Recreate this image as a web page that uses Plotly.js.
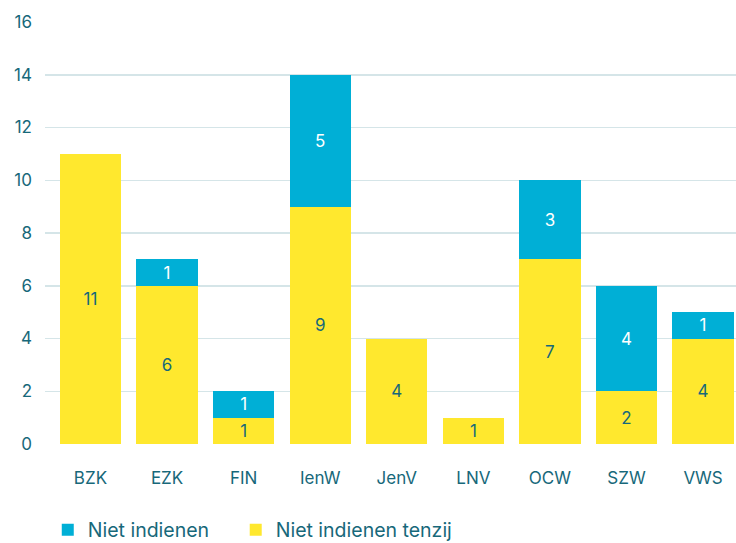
<!DOCTYPE html>
<html><head><meta charset="utf-8">
<script src="https://cdn.plot.ly/plotly-3.0.1.min.js"></script>
<style>html,body{margin:0;padding:0;background:#fff}#chart{width:736px;height:543px}</style>
</head><body><div id="chart"></div>
<script>
const categories = ["BZK","EZK","FIN","IenW","JenV","LNV","OCW","SZW","VWS"];
const nietIndienenTenzij = [11,6,1,9,4,1,7,2,4];
const nietIndienen = [null,1,1,5,null,null,3,4,1];
const yTicks = [0,2,4,6,8,10,12,14,16];

const teal = "#17687a";
const font = "Inter, 'Noto Sans', sans-serif";

const traces = [
  {type:"bar", name:"Niet indienen tenzij", x:categories, y:nietIndienenTenzij, legend:"legend2",
   marker:{color:"#ffe82e"}, text:nietIndienenTenzij.map(String), textposition:"inside", textangle:0,
   insidetextanchor:"middle", textfont:{color:teal,size:17,family:font}, hoverinfo:"skip"},
  {type:"bar", name:"Niet indienen", x:categories, y:nietIndienen, legend:"legend",
   marker:{color:"#00afd6"}, text:nietIndienen.map(v=>v==null?"":String(v)), textposition:"inside", textangle:0,
   insidetextanchor:"middle", textfont:{color:"#ffffff",size:17,family:font}, hoverinfo:"skip"}
];

const legendBase = {orientation:"h", xanchor:"left", yref:"container", y:0.024, yanchor:"middle",
          font:{size:19.5,color:teal}, itemwidth:30, itemsizing:"constant", bgcolor:"rgba(0,0,0,0)"};

const layout = {
  width:736, height:543, barmode:"stack", bargap:0.2,
  margin:{l:45,r:0,t:22,b:99, autoexpand:false},
  paper_bgcolor:"#fff", plot_bgcolor:"#fff",
  font:{family:font,color:teal,size:17},
  xaxis:{showgrid:false, zeroline:false, showline:false, ticks:"", range:[-0.594,8.43],
         ticklabelstandoff:22, tickfont:{size:17,color:teal}},
  yaxis:{range:[0,16], tickvals:yTicks, showgrid:true, gridcolor:"#d5e5e8", gridwidth:1.5,
         zeroline:false, showline:false, ticks:"", ticklabelstandoff:12, tickfont:{size:17,color:teal}},
  uniformtext:{minsize:17, mode:"show"},
  showlegend:true,
  legend:Object.assign({}, legendBase, {x:0.004}),
  legend2:Object.assign({}, legendBase, {x:0.276})
};
Plotly.newPlot("chart", traces, layout, {displayModeBar:false, staticPlot:true});
</script></body></html>
